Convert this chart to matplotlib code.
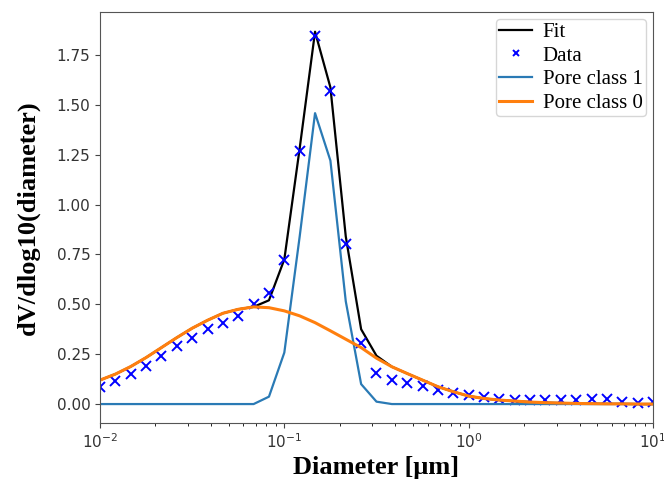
import numpy as np
import matplotlib
matplotlib.use('Agg')
import matplotlib.pyplot as plt

# diameters, 12 per decade from 1e-2 to 1e1
diam_exp = [-2 + i / 12 for i in range(37)]
diameter = [10 ** e for e in diam_exp]

data = [0.087, 0.117, 0.153, 0.192, 0.242, 0.292, 0.330, 0.375, 0.408, 0.442,
        0.503, 0.558, 0.720, 1.267, 1.845, 1.570, 0.800, 0.308, 0.155, 0.120,
        0.105, 0.090, 0.070, 0.055, 0.045, 0.035, 0.025, 0.020, 0.020, 0.018,
        0.020, 0.022, 0.025, 0.025, 0.012, 0.005, 0.010]

pore0 = [0.120, 0.150, 0.188, 0.233, 0.283, 0.333, 0.380, 0.420, 0.455, 0.475,
         0.487, 0.483, 0.467, 0.442, 0.408, 0.367, 0.325, 0.283, 0.230, 0.187,
         0.153, 0.120, 0.087, 0.062, 0.040, 0.028, 0.020, 0.015, 0.010, 0.007,
         0.005, 0.003, 0.002, 0.001, 0.001, 0.000, 0.000]

pore1 = [0.0, 0.0, 0.0, 0.0, 0.0, 0.0, 0.0, 0.0, 0.0, 0.0,
         0.0, 0.037, 0.258, 0.840, 1.458, 1.220, 0.515, 0.100, 0.012, 0.0,
         0.0, 0.0, 0.0, 0.0, 0.0, 0.0, 0.0, 0.0, 0.0, 0.0,
         0.0, 0.0, 0.0, 0.0, 0.0, 0.0, 0.0]

fit = [0.120, 0.150, 0.188, 0.233, 0.283, 0.333, 0.380, 0.420, 0.455, 0.475,
       0.487, 0.520, 0.725, 1.282, 1.866, 1.587, 0.840, 0.375, 0.242, 0.187,
       0.153, 0.120, 0.087, 0.062, 0.040, 0.028, 0.020, 0.015, 0.010, 0.007,
       0.005, 0.003, 0.002, 0.001, 0.001, 0.000, 0.000]

fig = plt.figure(figsize=(6.64, 4.83), dpi=100)
ax = fig.add_axes([0.1506, 0.1242, 0.8328, 0.851])

ax.plot(diameter, fit, color='black', lw=1.6, label='Fit')
ax.plot(diameter, data, 'x', color='blue', ms=7, mew=1.4, label='Data')
ax.plot(diameter, pore1, color='#2a7ab5', lw=1.6, label='Pore class 1')
ax.plot(diameter, pore0, color='#ff7f0e', lw=2.2, label='Pore class 0')

ax.set_xscale('log')
ax.set_xlim(1e-2, 1e1)
ax.set_ylim(-0.095, 1.965)
ax.set_yticks([0, 0.25, 0.5, 0.75, 1.0, 1.25, 1.5, 1.75])
ax.tick_params(labelsize=11, labelcolor='#333333', color='#444444')
for s in ax.spines.values():
    s.set_color('#555555')

ax.set_xlabel('Diameter [\u03bcm]', fontsize=19, fontweight='bold',
              family='Liberation Serif', labelpad=3)
ax.set_ylabel('dV/dlog10(diameter)', fontsize=19, fontweight='bold',
              family='Liberation Serif', labelpad=12)

ax.legend(loc='upper right', prop={'family': 'Liberation Serif', 'size': 15},
          borderpad=0.15, labelspacing=0.2, handlelength=1.6, handletextpad=0.5,
          borderaxespad=0.35, markerscale=0.7)

fig.savefig('out.png', dpi=100)
